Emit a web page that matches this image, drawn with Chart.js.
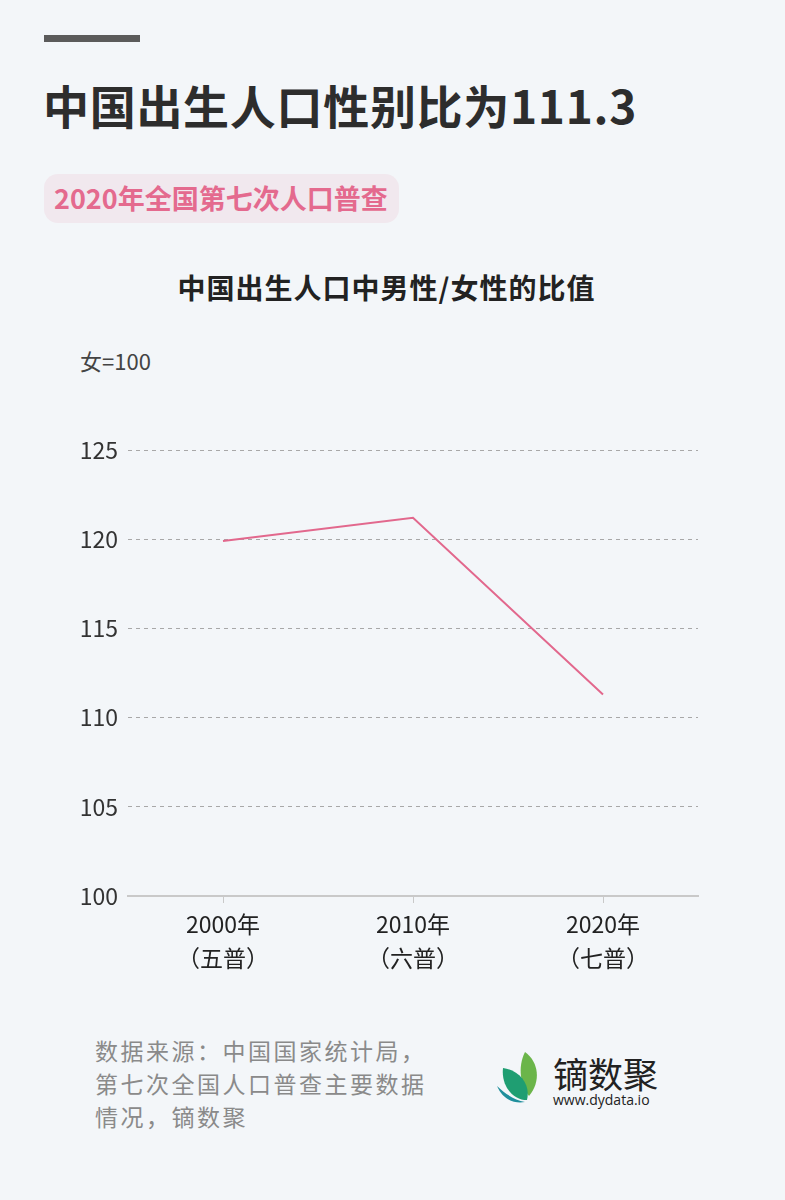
<!DOCTYPE html>
<html>
<head>
<meta charset="utf-8">
<script src="https://cdn.jsdelivr.net/npm/chart.js@4/dist/chart.umd.min.js"></script>
<style>
  html, body { margin: 0; padding: 0; }
  body {
    width: 785px; height: 1200px; position: relative; overflow: hidden;
    background: #f3f6f9;
    font-family: "Noto Sans CJK SC", "Noto Sans", sans-serif;
  }
  .bar { position: absolute; left: 44px; top: 35px; width: 96px; height: 7px; background: #5b5b5b; }
  .title { position: absolute; left: 43px; top: 74px; font-size: 46px; font-weight: bold; color: #2d2d2d; line-height: 60px; letter-spacing: 0.7px; white-space: nowrap; }
  .badge { position: absolute; left: 44px; top: 174px; width: 355px; height: 49px; border-radius: 14px; background: #f1e8ee; }
  .badge span { position: absolute; left: 10px; top: 6px; font-size: 27px; font-weight: bold; color: #e46a8e; letter-spacing: 0; line-height: 36px; white-space: nowrap; }
  .ctitle { position: absolute; left: -6px; width: 785px; top: 267px; text-align: center; font-size: 28px; font-weight: bold; color: #222; letter-spacing: 1px; line-height: 40px; }
  .unit { position: absolute; left: 80px; top: 345px; font-size: 22px; color: #444; line-height: 30px; }
  .wrap { position: absolute; left: 0; top: 420px; width: 785px; height: 580px; }
  .note { position: absolute; left: 95px; top: 1034px; font-size: 23px; color: #8a8a8a; line-height: 33px; letter-spacing: 2.5px; }
  .logo { position: absolute; left: 495px; top: 1050px; }
  .brand { position: absolute; left: 553px; top: 1051px; font-size: 35px; color: #222; line-height: 44px; white-space: nowrap; }
  .url { position: absolute; left: 553px; top: 1091px; font-size: 14px; color: #222; line-height: 18px; font-family: "Open Sans", "Noto Sans", sans-serif; }
</style>
</head>
<body>
<div class="bar"></div>
<div class="title">中国出生人口性别比为111.3</div>
<div class="badge"><span>2020年全国第七次人口普查</span></div>
<div class="ctitle">中国出生人口中男性/女性的比值</div>
<div class="unit">女=100</div>
<div class="wrap"><canvas id="chart" width="785" height="580"></canvas></div>
<div class="note">数据来源：中国国家统计局，<br>第七次全国人口普查主要数据<br>情况，镝数聚</div>
<svg class="logo" width="50" height="54" viewBox="0 0 50 54">
  <path d="M30 2 C44 12 46 32 34 46 C26 36 22 18 30 2 Z" fill="#6bb54a"/>
  <path d="M8 18 C24 20 36 34 32 50 C18 50 6 36 8 18 Z" fill="#1f9e72"/>
  <path d="M2 36 C10 44 20 50 30 52 C20 54 8 50 2 36 Z" fill="#1f8f9c"/>
</svg>
<div class="brand">镝数聚</div>
<div class="url">www.dydata.io</div>
<script>
const censusYears = [['2000年', '（五普）'], ['2010年', '（六普）'], ['2020年', '（七普）']];
const sexRatio = [119.9, 121.2, 111.3];
const yTicks = { min: 100, max: 125, step: 5 };

new Chart(document.getElementById('chart').getContext('2d'), {
  type: 'line',
  data: {
    labels: censusYears,
    datasets: [{
      data: sexRatio,
      borderColor: '#e2688d',
      borderWidth: 2,
      pointRadius: 0,
      tension: 0,
      fill: false
    }]
  },
  options: {
    responsive: false,
    animation: false,
    layout: { padding: { top: 30, right: 87, left: 0, bottom: 0 } },
    plugins: { legend: { display: false }, tooltip: { enabled: false } },
    scales: {
      x: {
        offset: true,
        afterFit: s => { s.height = 104; },
        grid: { drawOnChartArea: false, drawTicks: true, tickLength: 7, tickColor: '#c9c9c9' },
        border: { display: true, color: '#c9c9c9', width: 2 },
        ticks: {
          color: '#222', padding: 4, maxRotation: 0,
          font: { family: '"Noto Sans CJK SC"', size: 23, lineHeight: 1.5 }
        }
      },
      y: {
        min: yTicks.min, max: yTicks.max,
        afterFit: s => { s.width = 128; },
        grid: {
          drawTicks: false,
          color: c => (c.tick && c.tick.value === yTicks.min) ? 'rgba(0,0,0,0)' : '#a8a8a8',
          lineWidth: 1
        },
        border: { display: false, dash: [4, 4] },
        ticks: {
          stepSize: yTicks.step, color: '#333', padding: 10,
          font: { family: '"Noto Sans CJK SC"', size: 23 }
        }
      }
    }
  }
});
</script>
</body>
</html>
